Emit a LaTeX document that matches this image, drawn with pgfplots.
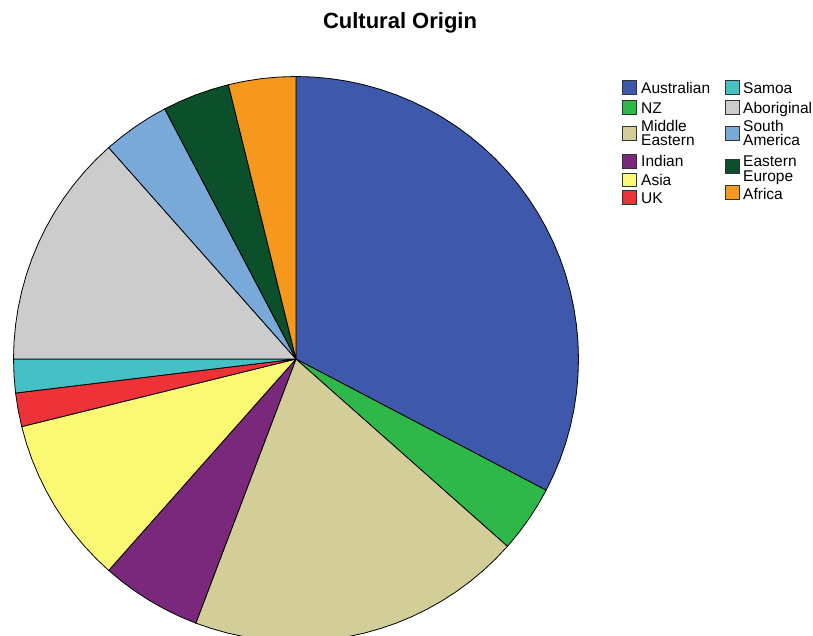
\documentclass[border=0pt]{standalone}
\usepackage{pgfplots}
\pgfplotsset{compat=1.18}
\usepgfplotslibrary{polar}
\usepackage{fontspec}
\setmainfont{Liberation Sans}

% slice colours
\definecolor{aus}{HTML}{3E58AC}
\definecolor{nz}{HTML}{2FB84A}
\definecolor{mideast}{HTML}{D3CE97}
\definecolor{indian}{HTML}{7A287C}
\definecolor{asia}{HTML}{FBF874}
\definecolor{uk}{HTML}{EE3338}
\definecolor{samoa}{HTML}{45C1C6}
\definecolor{abor}{HTML}{CCCCCC}
\definecolor{samer}{HTML}{78A9D9}
\definecolor{eeur}{HTML}{0B502A}
\definecolor{africa}{HTML}{F7981E}

\begin{document}
\begin{tikzpicture}[x=1pt,y=1pt]
  \path[use as bounding box] (0,0) rectangle (813,636);

  % counts (n = 52): Australian 17, NZ 2, Middle Eastern 10, Indian 3, Asia 5,
  % UK 1, Samoa 1, Aboriginal 7, South America 2, Eastern Europe 2, Africa 2
  % one count = 6.92 deg, clockwise from 12 o'clock; arc points every half count
  \begin{polaraxis}[
      at={(296pt,277pt)}, anchor=origin,
      width=565pt, height=565pt, scale only axis,
      hide axis, clip=false,
      ymin=0, ymax=1,
      every axis plot/.append style={draw=black, line width=0.8pt, line join=round},
    ]
    \addplot[fill=aus] coordinates {
      (0,0) (90,1) (86.54,1) (83.08,1) (79.62,1) (76.15,1) (72.69,1) (69.23,1)
      (65.77,1) (62.31,1) (58.85,1) (55.38,1) (51.92,1) (48.46,1) (45.00,1)
      (41.54,1) (38.08,1) (34.62,1) (31.15,1) (27.69,1) (24.23,1) (20.77,1)
      (17.31,1) (13.85,1) (10.38,1) (6.92,1) (3.46,1) (0,1) (-3.46,1) (-6.92,1)
      (-10.38,1) (-13.85,1) (-17.31,1) (-20.77,1) (-24.23,1) (-27.69,1)
    } -- cycle;
    \addplot[fill=nz] coordinates {
      (0,0) (-27.69,1) (-31.15,1) (-34.62,1) (-38.08,1) (-41.54,1)
    } -- cycle;
    \addplot[fill=mideast] coordinates {
      (0,0) (-41.54,1) (-45.00,1) (-48.46,1) (-51.92,1) (-55.38,1) (-58.85,1)
      (-62.31,1) (-65.77,1) (-69.23,1) (-72.69,1) (-76.15,1) (-79.62,1)
      (-83.08,1) (-86.54,1) (-90,1) (-93.46,1) (-96.92,1) (-100.38,1)
      (-103.85,1) (-107.31,1) (-110.77,1)
    } -- cycle;
    \addplot[fill=indian] coordinates {
      (0,0) (-110.77,1) (-114.23,1) (-117.69,1) (-121.15,1) (-124.62,1)
      (-128.08,1) (-131.54,1)
    } -- cycle;
    \addplot[fill=asia] coordinates {
      (0,0) (-131.54,1) (-135,1) (-138.46,1) (-141.92,1) (-145.38,1)
      (-148.85,1) (-152.31,1) (-155.77,1) (-159.23,1) (-162.69,1) (-166.15,1)
    } -- cycle;
    \addplot[fill=uk] coordinates {
      (0,0) (-166.15,1) (-169.62,1) (-173.08,1)
    } -- cycle;
    \addplot[fill=samoa] coordinates {
      (0,0) (-173.08,1) (-176.54,1) (-180,1)
    } -- cycle;
    \addplot[fill=abor] coordinates {
      (0,0) (-180,1) (-183.46,1) (-186.92,1) (-190.38,1) (-193.85,1)
      (-197.31,1) (-200.77,1) (-204.23,1) (-207.69,1) (-211.15,1) (-214.62,1)
      (-218.08,1) (-221.54,1) (-225,1) (-228.46,1)
    } -- cycle;
    \addplot[fill=samer] coordinates {
      (0,0) (-228.46,1) (-231.92,1) (-235.38,1) (-238.85,1) (-242.31,1)
    } -- cycle;
    \addplot[fill=eeur] coordinates {
      (0,0) (-242.31,1) (-245.77,1) (-249.23,1) (-252.69,1) (-256.15,1)
    } -- cycle;
    \addplot[fill=africa] coordinates {
      (0,0) (-256.15,1) (-259.62,1) (-263.08,1) (-266.54,1) (-270,1)
    } -- cycle;
  \end{polaraxis}

  % title
  \node[anchor=base, inner sep=0, font=\fontsize{22}{25}\selectfont\bfseries]
    at (400,607) {Cultural Origin};

  % legend
  \tikzset{sw/.style={draw=black!80, line width=0.8pt},
           lt/.style={anchor=base west, inner sep=0, font=\fontsize{15.5}{17}\selectfont}}
  \filldraw[sw, fill=aus]     (622,542) rectangle (636,555.5);
  \filldraw[sw, fill=nz]      (622,522) rectangle (636,535.5);
  \filldraw[sw, fill=mideast] (622,496) rectangle (636,509.5);
  \filldraw[sw, fill=indian]  (622,468) rectangle (636,481.5);
  \filldraw[sw, fill=asia]    (622,449.5) rectangle (636,463);
  \filldraw[sw, fill=uk]      (622,432) rectangle (636,445.5);
  \node[lt] at (641,542.7) {Australian};
  \node[lt] at (641,522) {NZ};
  \node[lt] at (641,504.3) {Middle};
  \node[lt] at (641,490) {Eastern};
  \node[lt] at (641,469.3) {Indian};
  \node[lt] at (641,450) {Asia};
  \node[lt] at (641,432) {UK};

  \filldraw[sw, fill=samoa]  (725,542) rectangle (739,555.5);
  \filldraw[sw, fill=abor]   (725,522) rectangle (739,535.5);
  \filldraw[sw, fill=samer]  (725,496) rectangle (739,509.5);
  \filldraw[sw, fill=eeur]   (725,462.5) rectangle (739,476.5);
  \filldraw[sw, fill=africa] (725,437) rectangle (739,450.5);
  \node[lt] at (743,542.7) {Samoa};
  \node[lt] at (743,522) {Aboriginal};
  \node[lt] at (743,504.3) {South};
  \node[lt] at (743,490) {America};
  \node[lt] at (743,469.3) {Eastern};
  \node[lt] at (743,454.5) {Europe};
  \node[lt] at (743,436.7) {Africa};
\end{tikzpicture}
\end{document}
